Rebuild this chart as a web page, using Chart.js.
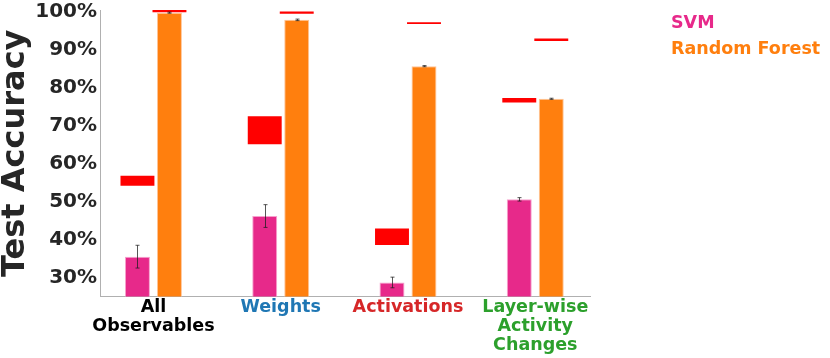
<!DOCTYPE html>
<html>
<head>
<meta charset="utf-8">
<script src="https://cdn.jsdelivr.net/npm/chart.js@4.4.1/dist/chart.umd.min.js"></script>
<style>
  html, body { margin: 0; padding: 0; background: #fff; }
</style>
</head>
<body>
<canvas id="accChart" width="830" height="358"></canvas>
<script>
// x categories (multi-line labels) and their label colours
const categories = [['All', 'Observables'], ['Weights'], ['Activations'], ['Layer-wise', 'Activity', 'Changes']];
const categoryColors = ['#000000', '#1f77b4', '#d62728', '#2ca02c'];

// mean test accuracy (%) and error bar half-length
const svmAcc = [35.5, 46.2, 28.7, 50.6];
const svmErr = [3.0, 3.0, 1.4, 0.45];
const rfAcc = [99.8, 97.9, 85.7, 77.1];
const rfErr = [0.15, 0.2, 0.15, 0.15];

// red reference bands, low / high (%)
const svmRefLow = [54.2, 65.1, 38.6, 76.1];
const svmRefHigh = [56.8, 72.5, 42.9, 77.3];
const rfRefLow = [99.9, 99.5, 96.8, 92.3];
const rfRefHigh = [100.5, 100.1, 97.3, 93.0];

const yTicks = [30, 40, 50, 60, 70, 80, 90, 100];

const FONT = "'DejaVu Sans', sans-serif";
const SVM_COLOR = '#e7298a';
const RF_COLOR = '#ff7f0e';

const pts = (arr) => arr.map((v, i) => ({ x: i, y: v }));
const band = (lo, hi) => lo.map((v, i) => ({ x: i, y: [v, hi[i]] }));

// Error bars drawn on top of the bars
const errorBarPlugin = {
    id: 'errorBars',
    afterDatasetsDraw(chart) {
        const ctx = chart.ctx;
        const yScale = chart.scales.y;
        ctx.save();
        ctx.strokeStyle = 'rgba(30, 30, 30, 0.75)';
        ctx.lineWidth = 1;
        chart.data.datasets.forEach((ds, di) => {
            if (!ds.errors) return;
            const meta = chart.getDatasetMeta(di);
            meta.data.forEach((bar, i) => {
                const v = ds.data[i].y;
                const top = yScale.getPixelForValue(v + ds.errors[i]);
                const bot = yScale.getPixelForValue(v - ds.errors[i]);
                const x = Math.round(bar.x) + 0.5;
                ctx.beginPath();
                ctx.moveTo(x, top); ctx.lineTo(x, bot);
                ctx.moveTo(x - 2, top); ctx.lineTo(x + 2, top);
                ctx.moveTo(x - 2, bot); ctx.lineTo(x + 2, bot);
                ctx.stroke();
            });
        });
        ctx.restore();
    }
};

// Text-only legend to the right of the plot
const textLegendPlugin = {
    id: 'textLegend',
    afterDraw(chart) {
        const { ctx, chartArea } = chart;
        ctx.save();
        ctx.font = 'bold 17.5px ' + FONT;
        ctx.textAlign = 'left';
        ctx.textBaseline = 'middle';
        chart.data.datasets.filter(d => d.inLegend).forEach((d, i) => {
            ctx.fillStyle = d.backgroundColor;
            ctx.fillText(d.label, chartArea.right + 81, chartArea.top + 13 + i * 26);
        });
        ctx.restore();
    }
};

const common = { categoryPercentage: 0.503 };

new Chart(document.getElementById('accChart'), {
    type: 'bar',
    data: {
        datasets: [
            {
                ...common, label: 'SVM ref', data: band(svmRefLow, svmRefHigh), stack: 'svm', clip: false,
                backgroundColor: '#ff0000', borderWidth: 0, barPercentage: 1.06
            },
            {
                ...common, label: 'RF ref', data: band(rfRefLow, rfRefHigh), stack: 'rf', clip: false,
                backgroundColor: '#ff0000', borderWidth: 0, barPercentage: 1.06
            },
            {
                ...common, label: 'SVM', data: pts(svmAcc), errors: svmErr, stack: 'svm', inLegend: true,
                backgroundColor: SVM_COLOR, borderColor: 'rgba(245, 150, 200, 0.9)', borderWidth: 1,
                barPercentage: 0.78
            },
            {
                ...common, label: 'Random Forest', data: pts(rfAcc), errors: rfErr, stack: 'rf', inLegend: true,
                backgroundColor: RF_COLOR, borderColor: 'rgba(255, 190, 140, 0.9)', borderWidth: 1,
                barPercentage: 0.78
            }
        ]
    },
    options: {
        responsive: false,
        animation: false,
        devicePixelRatio: 1,
        layout: { padding: { top: 10, right: 240, left: 0, bottom: 0 } },
        plugins: {
            legend: { display: false },
            tooltip: { enabled: false }
        },
        scales: {
            x: {
                type: 'linear',
                min: -0.42,
                max: 3.43,
                offset: false,
                grid: { display: false, drawTicks: false, offset: false },
                border: { display: true, color: '#b0b0b0', width: 1 },
                afterBuildTicks: (scale) => { scale.ticks = categories.map((c, i) => ({ value: i })); },
                afterFit: (scale) => { scale.height = 61.5; scale.paddingLeft = 0; scale.paddingRight = 0; },
                ticks: {
                    autoSkip: false,
                    maxRotation: 0,
                    padding: 1,
                    callback: (v) => categories[v],
                    color: (c) => categoryColors[c.index],
                    font: { family: FONT, size: 17.5, weight: 'bold', lineHeight: 1.1 }
                }
            },
            y: {
                min: 25,
                max: 100.5,
                stacked: false,
                grid: { display: false, drawTicks: false },
                border: { display: true, color: '#b0b0b0', width: 1 },
                afterBuildTicks: (scale) => { scale.ticks = yTicks.map(v => ({ value: v })); },
                afterFit: (scale) => { scale.width = 100; scale.paddingTop = 0; scale.paddingBottom = 0; },
                ticks: {
                    padding: 3,
                    color: '#262626',
                    callback: (v) => v + '%',
                    font: { family: FONT, size: 20, weight: 'bold' }
                },
                title: {
                    display: true,
                    text: 'Test Accuracy',
                    color: '#262626',
                    padding: 0,
                    font: { family: FONT, size: 32, weight: 'bold', lineHeight: 1.0 }
                }
            }
        }
    },
    plugins: [errorBarPlugin, textLegendPlugin]
});
</script>
</body>
</html>
